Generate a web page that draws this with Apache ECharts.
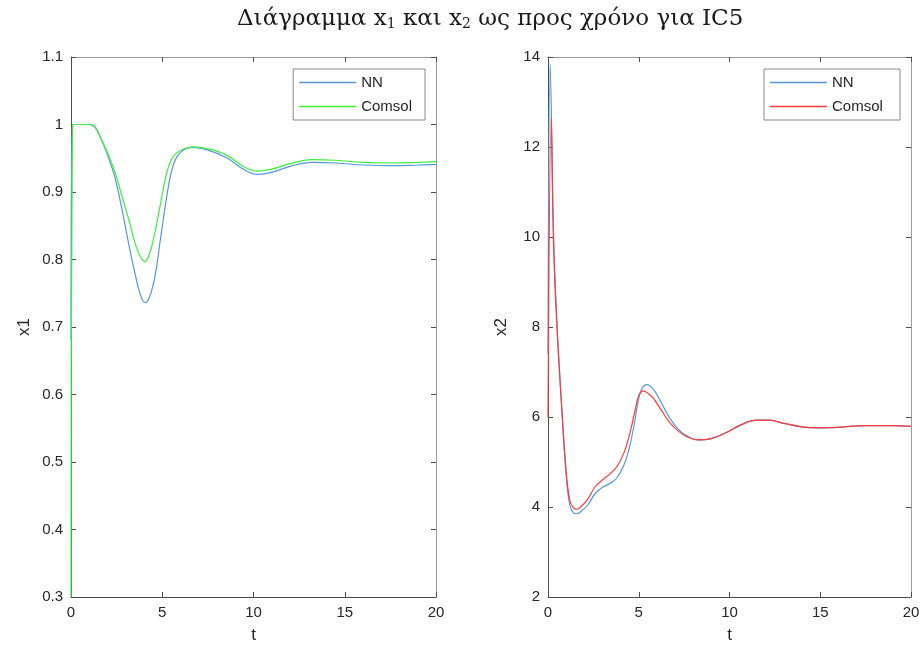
<!DOCTYPE html>
<html><head><meta charset="utf-8">
<script src="https://cdn.jsdelivr.net/npm/echarts@6/dist/echarts.min.js"></script>
<style>html,body{margin:0;padding:0;background:#fff}#c{width:924px;height:653px}</style>
</head><body><div id="c"></div>
<script>
// ---- data ----
var xTicksT = [0, 5, 10, 15, 20];
var x1Ticks = [0.3, 0.4, 0.5, 0.6, 0.7, 0.8, 0.9, 1, 1.1];
var x2Ticks = [2, 4, 6, 8, 10, 12, 14];

var tX1NN = [0, 0.08, 0.5, 1.0, 1.3, 1.6, 2.0, 2.4, 2.8, 3.2, 3.5, 3.8, 4.05, 4.3, 4.6, 4.9, 5.2, 5.5, 5.8, 6.2, 6.7, 7.5, 8.5, 9.5, 10.2, 11, 12, 13.2, 14.5, 16, 17.5, 19, 20];
var x1NN = [0.68, 1.0, 1.0, 1.0, 0.997, 0.982, 0.955, 0.922, 0.873, 0.818, 0.78, 0.748, 0.736, 0.744, 0.775, 0.83, 0.885, 0.93, 0.952, 0.963, 0.966, 0.962, 0.951, 0.933, 0.926, 0.929, 0.938, 0.944, 0.943, 0.940, 0.939, 0.940, 0.941];
var tX1Comsol = [0, 0.08, 0.5, 1.0, 1.3, 1.6, 2.0, 2.4, 2.8, 3.2, 3.5, 3.8, 4.05, 4.3, 4.6, 4.9, 5.2, 5.5, 5.8, 6.2, 6.7, 7.5, 8.5, 9.5, 10.2, 11, 12, 13.2, 14.5, 16, 17.5, 19, 20];
var x1Comsol = [0.3, 1.0, 1.0, 1.0, 0.996, 0.982, 0.958, 0.93, 0.893, 0.856, 0.825, 0.804, 0.797, 0.808, 0.84, 0.882, 0.923, 0.948, 0.958, 0.964, 0.967, 0.964, 0.955, 0.937, 0.931, 0.934, 0.942, 0.948, 0.947, 0.944, 0.943, 0.944, 0.945];

var tX2NN = [0, 0.12, 0.3, 0.48, 0.75, 1.0, 1.2, 1.4, 1.6, 1.9, 2.2, 2.6, 3.0, 3.4, 3.8, 4.2, 4.5, 4.8, 5.0, 5.2, 5.45, 5.8, 6.2, 6.7, 7.2, 7.7, 8.3, 9.0, 9.8, 10.6, 11.5, 12.2, 13.0, 14.0, 15.0, 16.0, 17.5, 19.0, 20.0];
var x2NN = [7.4, 13.85, 10.2, 8.2, 6.25, 4.7, 4.05, 3.87, 3.85, 3.93, 4.05, 4.3, 4.44, 4.52, 4.65, 4.95, 5.35, 5.95, 6.42, 6.65, 6.72, 6.62, 6.35, 5.98, 5.72, 5.57, 5.49, 5.52, 5.65, 5.82, 5.93, 5.93, 5.86, 5.78, 5.76, 5.77, 5.81, 5.81, 5.79];
var tX2Comsol = [0, 0.18, 0.3, 0.48, 0.75, 1.0, 1.2, 1.4, 1.6, 1.9, 2.2, 2.6, 3.0, 3.4, 3.8, 4.2, 4.5, 4.8, 5.0, 5.25, 5.5, 5.8, 6.2, 6.7, 7.2, 7.7, 8.3, 9.0, 9.8, 10.6, 11.5, 12.2, 13.0, 14.0, 15.0, 16.0, 17.5, 19.0, 20.0];
var x2Comsol = [6.0, 12.65, 9.9, 8.1, 6.25, 4.8, 4.15, 3.98, 3.95, 4.04, 4.18, 4.45, 4.6, 4.73, 4.9, 5.22, 5.62, 6.15, 6.47, 6.58, 6.53, 6.42, 6.18, 5.88, 5.68, 5.55, 5.49, 5.52, 5.65, 5.82, 5.93, 5.93, 5.86, 5.78, 5.76, 5.77, 5.81, 5.81, 5.79];

var colNN = '#5597da', colGreen = '#3cf03c', colRed = '#ff3a3a';
function pairs(t, v) { return t.map(function (x, i) { return [x, v[i]]; }); }

var txtCol = '#262626', axCol = '#4d4d4d', borderCol = '#9a9a9a';
var lab = { color: txtCol, fontFamily: 'Liberation Sans', fontSize: 15 };

function mkX(gi, ticks, bottom) {
  return {
    type: 'value', gridIndex: gi, min: ticks[0], max: ticks[ticks.length - 1],
    interval: ticks[1] - ticks[0], position: bottom ? 'bottom' : 'top',
    name: bottom ? 't' : '', nameLocation: 'middle', nameGap: 30,
    nameTextStyle: { color: txtCol, fontFamily: 'Liberation Sans', fontSize: 17 },
    axisLine: { show: true, onZero: false, lineStyle: { color: bottom ? axCol : borderCol } },
    axisTick: { show: true, inside: true, length: 5, lineStyle: { color: axCol } },
    axisLabel: Object.assign({ show: bottom, margin: 8 }, lab),
    splitLine: { show: false }
  };
}
function mkY(gi, ticks, left, name) {
  return {
    type: 'value', gridIndex: gi, min: ticks[0], max: ticks[ticks.length - 1],
    interval: +(ticks[1] - ticks[0]).toFixed(6), position: left ? 'left' : 'right',
    name: left ? name : '', nameLocation: 'middle', nameGap: 38,
    nameTextStyle: { color: txtCol, fontFamily: 'Liberation Sans', fontSize: 17 },
    axisLine: { show: true, onZero: false, lineStyle: { color: left ? axCol : borderCol } },
    axisTick: { show: true, inside: true, length: 5, lineStyle: { color: axCol } },
    axisLabel: Object.assign({ show: left, margin: 8 }, lab),
    splitLine: { show: false }
  };
}
function line(name, gi, t, v, col) {
  return {
    name: name, type: 'line', xAxisIndex: gi * 2, yAxisIndex: gi * 2,
    data: pairs(t, v), showSymbol: false, symbol: 'none',
    smooth: 0.4, clip: true,
    lineStyle: { color: col, width: 1.2 }, itemStyle: { color: col }
  };
}
function legend(gi, right, names) {
  return {
    data: names.map(function (n) { return { name: n, icon: 'rect' }; }),
    orient: 'vertical', right: right, top: 69, itemWidth: 57, itemHeight: 1.3,
    itemGap: 9, padding: [6, 13, 6, 6], borderColor: '#8a8a8a', borderWidth: 1,
    backgroundColor: '#fff',
    textStyle: { color: txtCol, fontFamily: 'Liberation Sans', fontSize: 15 }
  };
}

var chart = echarts.init(document.getElementById('c'), null, { renderer: 'canvas' });
chart.setOption({
  animation: false,
  backgroundColor: '#fff',
  title: {
    text: 'Διάγραμμα x{s|1} και x{s|2} ως προς χρόνο για IC5',
    left: 232, top: 3,
    textStyle: {
      fontFamily: 'DejaVu Serif', fontSize: 23, fontWeight: 'normal', color: '#1a1a1a',
      rich: { s: { fontFamily: 'DejaVu Serif', fontSize: 14, verticalAlign: 'bottom', padding: [9, 0, 0, 0], color: '#1a1a1a' } }
    }
  },
  grid: [
    { left: 71, top: 57, width: 365, height: 540, show: false },
    { left: 548, top: 57, width: 363, height: 540, show: false }
  ],
  xAxis: [mkX(0, xTicksT, true), mkX(0, xTicksT, false), mkX(1, xTicksT, true), mkX(1, xTicksT, false)],
  yAxis: [mkY(0, x1Ticks, true, 'x1'), mkY(0, x1Ticks, false), mkY(1, x2Ticks, true, 'x2'), mkY(1, x2Ticks, false)],
  legend: [],
  series: [
    line('NN', 0, tX1NN, x1NN, colNN),
    line('Comsol', 0, tX1Comsol, x1Comsol, colGreen),
    line('NN ', 1, tX2NN, x2NN, colNN),
    line('Comsol ', 1, tX2Comsol, x2Comsol, colRed)
  ]
});
chart.setOption({ legend: [legend(0, 924 - 425, ['NN', 'Comsol']), legend(1, 924 - 900, ['NN ', 'Comsol '])] });
</script></body></html>
